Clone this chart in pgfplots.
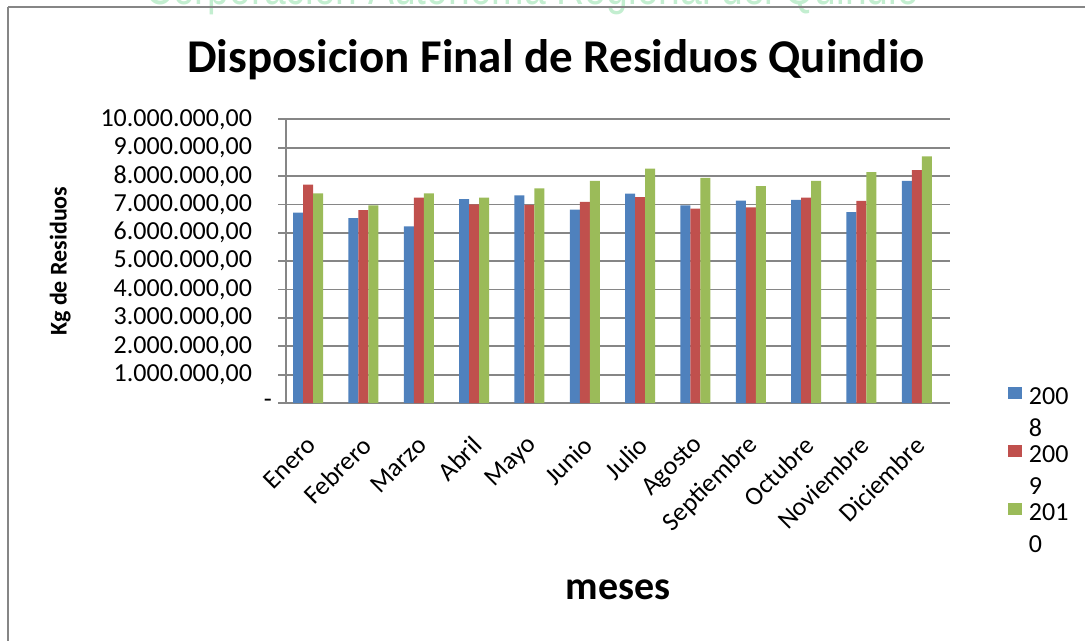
\documentclass[border=0pt]{standalone}
\usepackage{fontspec}
\setmainfont{Carlito}
\newfontfamily\wmfont{Liberation Sans}
\usepackage{pgfplots}
\pgfplotsset{compat=1.18}
\definecolor{cblue}{RGB}{79,129,189}
\definecolor{cred}{RGB}{192,80,77}
\definecolor{cgreen}{RGB}{155,187,89}
\definecolor{cgrid}{RGB}{134,134,134}
\definecolor{wm}{RGB}{195,238,208}
\pgfplotsset{sqlegend/.style={legend image code/.code={\fill[##1,draw=none] (0pt,0pt) rectangle (7pt,6pt);}}}
\begin{document}
\begin{tikzpicture}
\useasboundingbox (0pt,0pt) rectangle (542.5pt,-320.5pt);
\node[anchor=base, font=\wmfont\fontsize{25}{28}\selectfont, text=wm, inner sep=0pt, xscale=0.78] at (266pt,-2.5pt) {Corporacion Autonoma Regional del Quindio};
\draw[cgrid, line width=1pt] (4pt,-3.5pt) -- (560pt,-3.5pt);
\draw[cgrid, line width=1pt] (4pt,-3.5pt) -- (4pt,-330pt);
\node[anchor=base, font=\bfseries\fontsize{23.5}{28}\selectfont, inner sep=0pt] at (278pt,-36.5pt) {Disposicion Final de Residuos Quindio};
\begin{axis}[
  at={(143pt,-201.5pt)}, anchor=south west,
  scale only axis, width=332pt, height=141.8pt,
  xmin=-0.4, xmax=11.6, ymin=0, ymax=10000000,
  scaled y ticks=false,
  ybar=0pt, bar width=5pt,
  xtick={0,1,2,3,4,5,6,7,8,9,10,11},
  xticklabels={Enero,Febrero,Marzo,Abril,Mayo,Junio,Julio,Agosto,Septiembre,Octubre,Noviembre,Diciembre},
  x tick label style={rotate=45, anchor=east, font=\fontsize{13}{15}\selectfont, xshift=-6pt, yshift=-11.7pt},
  ytick={0,1000000,2000000,3000000,4000000,5000000,6000000,7000000,8000000,9000000,10000000},
  yticklabels={{\hbox to 0pt{\hskip 6pt -\hss}},{1.000.000,00},{2.000.000,00},{3.000.000,00},{4.000.000,00},{5.000.000,00},{6.000.000,00},{7.000.000,00},{8.000.000,00},{9.000.000,00},{10.000.000,00}},
  y tick label style={font=\fontsize{13}{15}\selectfont, xshift=-9.5pt},
  axis x line*=bottom, axis y line*=left,
  axis line style={cgrid, line width=0.9pt},
  ymajorgrids, grid style={cgrid, line width=0.9pt},
  major tick length=4pt, tick align=outside,
  xtick style={draw=none}, ytick style={cgrid, line width=0.9pt},
  ylabel={Kg de Residuos},
  ylabel style={font=\bfseries\fontsize{12}{14}\selectfont, at={(rel axis cs:-0.34,0.5)}, anchor=center},
  xlabel={meses},
  xlabel style={font=\bfseries\fontsize{20}{24}\selectfont, at={(rel axis cs:0.5,-0.659)}, anchor=center},
  legend cell align=left,
  legend style={at={(rel axis cs:1.0873,0.0564)}, anchor=north west, draw=none, fill=none,
    inner sep=0pt, outer sep=0pt, row sep=17.5pt, column sep=3.5pt,
    font=\fontsize{13}{16}\selectfont,
    nodes={inner sep=0pt, text height=8pt, text depth=3pt}},
  sqlegend,
]
\addplot[fill=cblue, draw=none] coordinates {(0,6710000) (1,6520000) (2,6230000) (3,7190000) (4,7320000) (5,6820000) (6,7380000) (7,6970000) (8,7140000) (9,7160000) (10,6730000) (11,7830000)};
\addplot[fill=cred, draw=none] coordinates {(0,7700000) (1,6800000) (2,7240000) (3,7000000) (4,6990000) (5,7090000) (6,7260000) (7,6850000) (8,6900000) (9,7240000) (10,7130000) (11,8210000)};
\addplot[fill=cgreen, draw=none] coordinates {(0,7390000) (1,6970000) (2,7390000) (3,7240000) (4,7570000) (5,7830000) (6,8260000) (7,7940000) (8,7650000) (9,7830000) (10,8140000) (11,8700000)};
\addlegendentry{\smash{\rlap{\raisebox{-16pt}{8}}}200}
\addlegendentry{\smash{\rlap{\raisebox{-16pt}{9}}}200}
\addlegendentry{\smash{\rlap{\raisebox{-16pt}{0}}}201}
\end{axis}
\end{tikzpicture}
\end{document}
